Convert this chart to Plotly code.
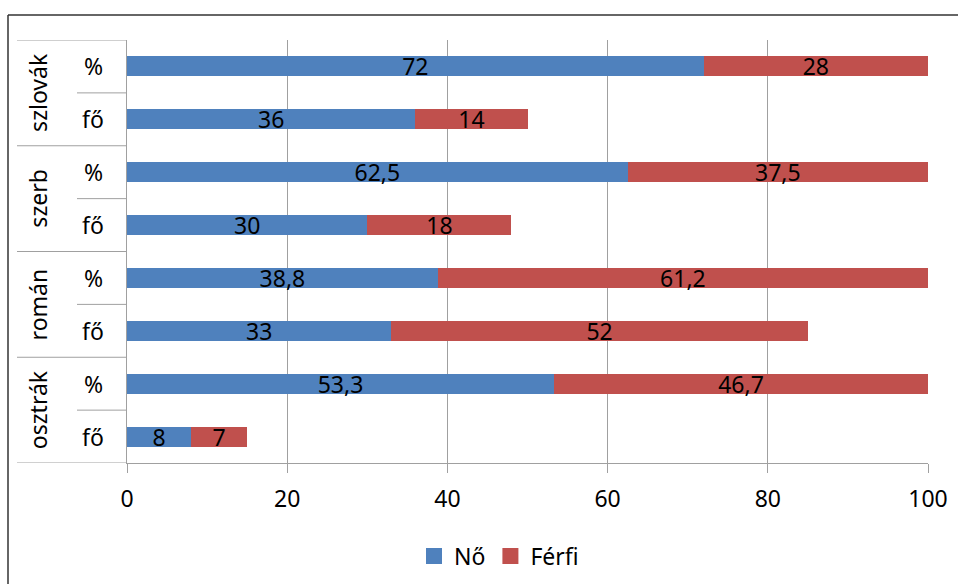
import plotly.graph_objects as go

groups = ["osztrák", "román", "szerb", "szlovák"]
subs = ["fő", "%"]
no_values = [8, 53.3, 33, 38.8, 30, 62.5, 36, 72]
ferfi_values = [7, 46.7, 52, 61.2, 18, 37.5, 14, 28]
x_ticks = [0, 20, 40, 60, 80, 100]

cats = [f"{g}|{s}" for g in groups for s in subs]

W, H = 958, 584
L, T, R = 127, 40, 30
B = H - 463
pw, ph = W - L - R, H - T - B

def px_x(p):
    return (p - L) / pw

def px_y(p):
    return (H - B - p) / ph

FONT = "Noto Sans"
FS = 23
BLUE = "#4F81BD"
RED = "#C0504D"
GRID = "#A0A0A0"

def fmt(v):
    return str(v).replace(".", ",")

fig = go.Figure()
fig.add_trace(go.Bar(
    y=cats, x=no_values, orientation="h", name="Nő", showlegend=False,
    marker=dict(color=BLUE, line=dict(width=0)),
    text=[fmt(v) for v in no_values], textposition="inside",
    insidetextanchor="middle", textangle=0, constraintext="none",
    textfont=dict(color="black", size=FS, family=FONT),
))
fig.add_trace(go.Bar(
    y=cats, x=ferfi_values, orientation="h", name="Férfi", showlegend=False,
    marker=dict(color=RED, line=dict(width=0)),
    text=[fmt(v) for v in ferfi_values], textposition="inside",
    insidetextanchor="middle", textangle=0, constraintext="none",
    textfont=dict(color="black", size=FS, family=FONT),
))
# legend entries with larger square symbols
for name, col in [("Nő", BLUE), ("Férfi", RED)]:
    fig.add_trace(go.Scatter(
        x=[None], y=[None], mode="markers", name=name,
        marker=dict(symbol="square", size=17, color=col),
    ))

annotations = []
shapes = []
for i, c in enumerate(cats):
    annotations.append(dict(
        x=px_x(93), xref="paper", y=c, yref="y", text=c.split("|")[1],
        showarrow=False, xanchor="center", yanchor="middle",
        font=dict(size=FS, family=FONT, color="black"),
    ))
for gi, g in enumerate(groups):
    annotations.append(dict(
        x=px_x(38), xref="paper", y=gi * 2 + 0.5, yref="y", text=g,
        showarrow=False, textangle=-90, xanchor="center", yanchor="middle",
        font=dict(size=FS, family=FONT, color="black"),
    ))
    shapes.append(dict(type="line", xref="paper", yref="y",
                       x0=px_x(77), x1=0, y0=gi * 2 + 0.5, y1=gi * 2 + 0.5,
                       line=dict(color=GRID, width=1)))
    shapes.append(dict(type="line", xref="paper", yref="y",
                       x0=px_x(17), x1=0, y0=gi * 2 + 1.5, y1=gi * 2 + 1.5,
                       line=dict(color=GRID, width=1)))
shapes.append(dict(type="line", xref="paper", yref="y",
                   x0=px_x(17), x1=0, y0=-0.5, y1=-0.5,
                   line=dict(color=GRID, width=1)))
# outer frame: only top and left edges are visible in the crop
shapes.append(dict(type="line", xref="paper", yref="paper",
                   x0=px_x(8), x1=px_x(1200), y0=px_y(15), y1=px_y(15),
                   line=dict(color="#333333", width=1.5), layer="below"))
shapes.append(dict(type="line", xref="paper", yref="paper",
                   x0=px_x(8), x1=px_x(8), y0=px_y(15), y1=px_y(800),
                   line=dict(color="#333333", width=1.5), layer="below"))

fig.update_layout(
    width=W, height=H,
    margin=dict(l=L, r=R, t=T, b=B, autoexpand=False),
    barmode="stack", bargap=0.62,
    plot_bgcolor="white", paper_bgcolor="white",
    font=dict(family=FONT, size=FS, color="black"),
    showlegend=True,
    legend=dict(orientation="h", x=px_x(414), xanchor="left",
                y=px_y(556), yanchor="middle",
                font=dict(size=FS, family=FONT), traceorder="normal",
                itemwidth=30, tracegroupgap=0),
    annotations=annotations, shapes=shapes,
    xaxis=dict(range=[0, 100], tickvals=x_ticks, showgrid=True,
               gridcolor=GRID, gridwidth=1, zeroline=False,
               showline=True, linecolor=GRID, linewidth=1,
               ticks="outside", ticklen=9, tickcolor=GRID,
               tickfont=dict(size=FS, family=FONT, color="black"),
               ticklabelstandoff=6),
    yaxis=dict(categoryorder="array", categoryarray=cats,
               range=[-0.5, len(cats) - 0.5],
               showticklabels=False, showgrid=False, zeroline=False,
               showline=True, linecolor=GRID, linewidth=1, ticks=""),
)

fig.write_html(
    "out.html",
    config={"displayModeBar": False},
    post_script="document.body.style.margin='0';document.body.style.overflow='hidden';",
)
